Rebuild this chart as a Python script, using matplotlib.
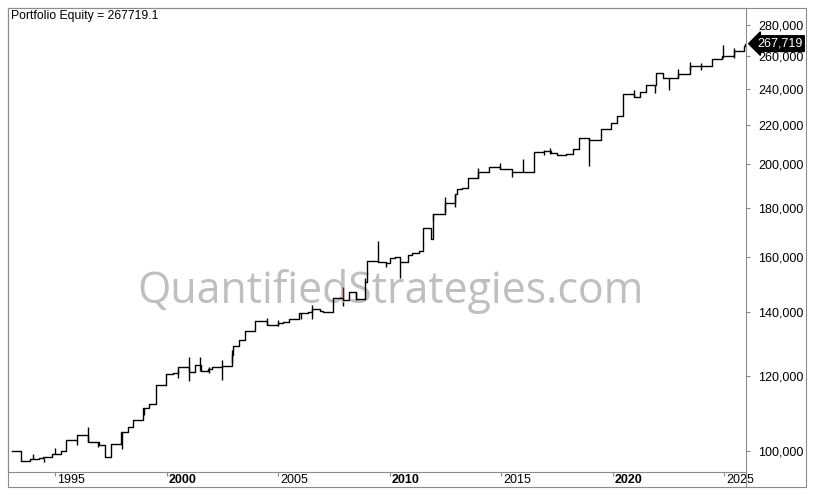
import matplotlib
matplotlib.use("Agg")
import matplotlib.pyplot as plt
from matplotlib.ticker import FixedLocator, NullLocator, FuncFormatter
from matplotlib.lines import Line2D
from matplotlib.patches import Rectangle

plt.rcParams["font.family"] = ["Liberation Sans", "DejaVu Sans"]

# Equity curve: start of each step (decimal year) and equity level
step_years = [
    1993.06, 1993.48, 1993.88, 1994.26, 1994.46, 1994.87, 1995.27, 1995.49,
    1995.99, 1996.47, 1996.96, 1997.22, 1997.24, 1997.48, 1997.96, 1998.26,
    1998.50, 1998.95, 1999.22, 1999.50, 1999.96, 2000.29, 2000.52, 2001.01,
    2001.28, 2001.52, 2001.86, 2002.01, 2002.46, 2002.91, 2002.98, 2003.25,
    2003.51, 2003.96, 2004.48, 2004.97, 2005.22, 2005.49, 2005.93, 2006.35,
    2006.50, 2006.87, 2007.02, 2007.47, 2007.90, 2008.19, 2008.47, 2008.87,
    2008.97, 2009.47, 2009.84, 2010.01, 2010.23, 2010.46, 2010.83, 2010.98,
    2011.32, 2011.47, 2011.85, 2011.95, 2012.48, 2012.92, 2013.01, 2013.22,
    2013.49, 2013.97, 2014.46, 2014.94, 2015.47, 2015.96, 2016.48, 2016.93,
    2017.23, 2017.48, 2017.89, 2018.00, 2018.23, 2018.49, 2018.94, 2019.46,
    2019.93, 2020.20, 2020.46, 2020.95, 2021.22, 2021.48, 2021.95, 2022.26,
    2022.93, 2023.47, 2023.94, 2024.46, 2024.88, 2025.43, 2025.88, 2025.93,
]
step_equity = [
    100000, 97700, 98100, 98250, 98500, 99350, 99900, 102600,
    103900, 102100, 101400, 100100, 98600, 101600, 104700, 105900,
    107900, 110900, 111900, 117300, 120400, 120800, 122400, 121100,
    123100, 121200, 121800, 122500, 122800, 126200, 129000, 130900,
    133700, 136900, 135600, 136200, 136500, 137500, 139500, 140000,
    140800, 140300, 139900, 144600, 144000, 147000, 144300, 150500,
    158400, 158000, 157500, 159300, 159900, 158000, 160500, 161200,
    162300, 171500, 167100, 177200, 182000, 186000, 188200, 188700,
    193300, 196200, 198900, 197900, 196500, 196200, 206100, 206600,
    205500, 204500, 205000, 205200, 207600, 213100, 212300, 218000,
    221100, 224700, 237000, 235500, 238400, 242300, 249300, 246300,
    248900, 253800, 253400, 258000, 259700, 263300, 266300, 267719,
]

# Intrabar spikes: year, low, high
spike_years = [
    1993.98, 1994.48, 1994.97, 1995.96, 1996.47, 1996.93, 1997.97, 1998.96,
    2000.50, 2000.98, 2001.50, 2001.90, 2002.47, 2002.92, 2004.49, 2004.97,
    2006.00, 2006.50, 2007.88, 2008.47, 2008.90, 2009.47, 2009.84, 2010.46,
    2011.95, 2012.48, 2012.92, 2013.97, 2014.94, 2015.47, 2015.96, 2016.93,
    2017.20, 2018.94, 2020.95, 2021.90, 2022.50, 2022.93, 2023.47, 2023.94,
    2024.96, 2025.43,
]
spike_low = [
    98000, 97450, 99350, 101450, 102100, 101000, 100400, 109000,
    119300, 118500, 121300, 120700, 118700, 123600, 135600, 135300,
    137500, 137500, 141900, 144000, 150000, 158000, 156200, 152000,
    174800, 178100, 180500, 193300, 198000, 193800, 196500, 204500,
    205000, 199000, 235600, 237500, 239500, 246300, 251000, 251000,
    258400, 258800,
]
spike_high = [
    99200, 98250, 100650, 102600, 105900, 102100, 104700, 110900,
    121600, 125600, 125600, 122600, 124600, 127600, 137900, 137300,
    139500, 142300, 143400, 147000, 151800, 166200, 158000, 158000,
    177200, 184800, 185500, 198000, 200500, 196500, 202500, 206900,
    207800, 213100, 239400, 242300, 246300, 252000, 255800, 255200,
    266600, 265000,
]

# One red bar in late 2007
red_years = [2007.92]
red_low = [144600]
red_high = [148800]

year_ticks = [1995, 2000, 2005, 2010, 2015, 2020, 2025]
bold_years = [2000, 2010, 2020]
equity_ticks = [100000, 120000, 140000, 160000, 180000, 200000,
                220000, 240000, 260000, 280000]
final_equity = 267719.1

W, H = 816, 496
grey = "#8c8c8c"

fig = plt.figure(figsize=(W / 100, H / 100), dpi=100)
ax = fig.add_axes([8 / W, (H - 472) / H, (746 - 8) / W, (472 - 8) / H])

ax.step(step_years, step_equity, where="post", color="black", lw=1.0, zorder=3)
ax.vlines(spike_years, spike_low, spike_high, color="black", lw=1.0, zorder=3)
ax.vlines(red_years, red_low, red_high, color="#8b0000", lw=1.0, zorder=3)

ax.set_yscale("log")
ax.set_ylim(95050, 291800)
ax.set_xlim(1992.88, 2025.97)

# right hand price axis
ax.yaxis.tick_right()
ax.yaxis.set_major_locator(FixedLocator(equity_ticks))
ax.yaxis.set_minor_locator(NullLocator())
ax.yaxis.set_major_formatter(FuncFormatter(lambda v, p: f"{v:,.0f}"))
ax.tick_params(axis="y", direction="out", length=3, width=0.8, color=grey,
               pad=6, labelsize=9, labelcolor="black")

# date axis: ticks below, labels to the right of each tick
ax.set_xticks(year_ticks)
ax.set_xticklabels([])
ax.xaxis.set_minor_locator(NullLocator())
ax.tick_params(axis="x", direction="out", length=3, width=0.8, color=grey)
for yr in year_ticks:
    ax.annotate(str(yr), xy=(yr, 0), xycoords=("data", "axes fraction"),
                xytext=(2, -8), textcoords="offset pixels",
                ha="left", va="center", fontsize=9,
                fontweight="bold" if yr in bold_years else "normal",
                annotation_clip=False)

for s in ax.spines.values():
    s.set_color(grey)
    s.set_linewidth(0.8)

# outer frame and axis line down to it
fig.add_artist(Rectangle((8 / W, (H - 487) / H), (806 - 8) / W, (487 - 8) / H,
                         transform=fig.transFigure, fill=False, ec=grey, lw=0.8))
fig.add_artist(Line2D([746 / W, 746 / W], [(H - 487) / H, (H - 472) / H],
                      transform=fig.transFigure, color=grey, lw=0.8))

# title
ax.annotate(f"Portfolio Equity = {final_equity}", xy=(0, 1), xycoords="axes fraction",
            xytext=(3, -2), textcoords="offset pixels", ha="left", va="top", fontsize=8.8)

# last value marker
ax.annotate(f"{final_equity:,.0f}", xy=(1, final_equity), xycoords=("axes fraction", "data"),
            xytext=(11, 0), textcoords="offset pixels", ha="left", va="center",
            color="white", fontsize=9, zorder=5, annotation_clip=False,
            bbox=dict(boxstyle="larrow,pad=0.15", fc="black", ec="black"))

# watermark
wm = ax.text(0.519, 0.364, "QuantifiedStrategies.com", transform=ax.transAxes,
             ha="center", va="baseline", fontsize=32, color="#bfbfbf",
             family=["Open Sans", "DejaVu Sans"], zorder=1)
fig.canvas.draw()
w = wm.get_window_extent().width
wm.set_fontsize(32 * 508 / w)

fig.savefig("out.png", dpi=100)
